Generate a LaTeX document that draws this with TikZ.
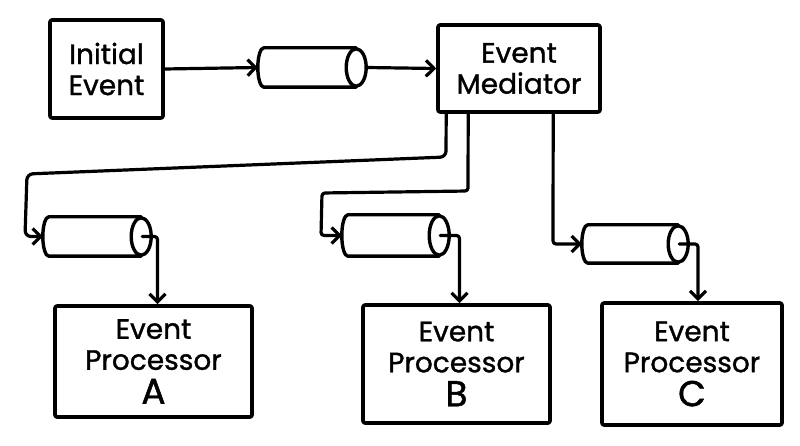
\documentclass[tikz,border=0pt]{standalone}
\usepackage{fontspec}
\setmainfont{Poppins}[FakeBold=1.2]
\usetikzlibrary{arrows.meta,calc}
\begin{document}
\begin{tikzpicture}[x=1pt,y=-1pt,
  line join=round, line cap=round,
  box/.style={draw, line width=3.6pt, rectangle, rounded corners=2pt, align=center, inner sep=0pt,
    font=\fontsize{28}{31}\selectfont},
  queue/.style={rectangle, draw=none, minimum width=108pt, minimum height=39pt, inner sep=0pt},
  qline/.style={line width=3.4pt},
  conn/.style={line width=3.2pt, -{Straight Barb[length=8pt,width=16pt]}}
]
\useasboundingbox (0,0) rectangle (800,446);

\node[box, minimum width=113pt, minimum height=98pt] (ie) at (106.5,69) {Initial\\Event};
\node[queue] (q1) at (312,67.5) {};
\node[box, minimum width=162pt, minimum height=87pt] (med) at (519,68.5) {Event\\Mediator};

\node[queue] (qa) at (97,236.5) {};
\node[queue, minimum width=107pt, minimum height=41pt] (qb) at (395.5,235.5) {};
\node[queue, minimum width=106pt, minimum height=38pt] (qc) at (635,244) {};

\node[box, minimum width=197pt, minimum height=111pt] (pa) at (153.5,361.5) {Event\\Processor\\[3pt]{\fontsize{36}{36}\selectfont A}};
\node[box, minimum width=187pt, minimum height=118pt] (pb) at (456.5,364) {Event\\Processor\\[3pt]{\fontsize{36}{36}\selectfont B}};
\node[box, minimum width=180pt, minimum height=122pt] (pc) at (692,364) {Event\\Processor\\[3pt]{\fontsize{36}{36}\selectfont C}};

% cylinders (queues)
\foreach \q in {q1,qa,qb,qc}{
  \path let \p1=(\q.north), \p2=(\q.south) in
    \pgfextra{\pgfmathsetmacro{\hr}{abs(\y1-\y2)/2}\xdef\hr{\hr}};
  \draw[qline] ([xshift=-10pt]\q.north east) -- ([xshift=6pt]\q.north west)
     arc[start angle=90, end angle=270, x radius=6pt, y radius=\hr pt]
     -- ([xshift=-10pt]\q.south east);
  \draw[qline] ([xshift=-10pt]\q.east) ellipse [x radius=10pt, y radius=\hr pt-1pt];
}

\draw[conn] (ie.east) -- (q1.west);
\draw[conn] (q1.east) -- (med.west);

\draw[conn, rounded corners=6pt] ([xshift=10pt]med.south west) -- (446,157) -- (27,174) -- (25,236.5) -- (qa.west);
\draw[conn, rounded corners=3pt] ([xshift=32pt]med.south west) -- (468,191) -- (322,193) -- (321,235.5) -- (qb.west);
\draw[conn, rounded corners=3pt] ([xshift=117pt]med.south west) -- (553,244) -- (qc.west);

\draw[conn, rounded corners=3pt] ([xshift=-9pt]qa.east) -| ([xshift=4pt]pa.north);
\draw[conn, rounded corners=3pt] ([xshift=-9pt]qb.east) -| ([xshift=3pt]pb.north);
\draw[conn, rounded corners=3pt] ([xshift=-9pt]qc.east) -| ([xshift=6pt]pc.north);
\end{tikzpicture}
\end{document}
